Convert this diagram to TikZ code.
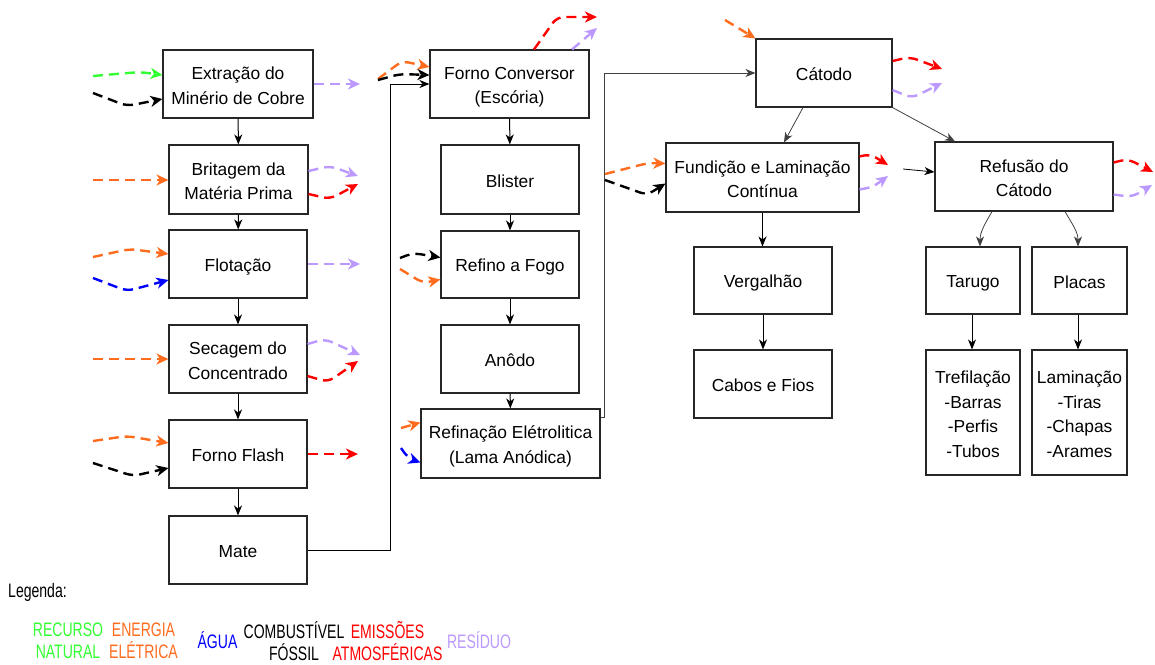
\documentclass[tikz,border=0pt]{standalone}
\usepackage{fontspec}
\setmainfont{Liberation Sans}
\newfontfamily\legfont[FakeStretch=0.72]{Liberation Sans}
\usetikzlibrary{arrows.meta,calc}
\definecolor{cgreen}{RGB}{51,255,51}
\definecolor{corange}{RGB}{255,108,30}
\definecolor{cblue}{RGB}{0,0,255}
\definecolor{cred}{RGB}{255,0,0}
\definecolor{cpurple}{RGB}{187,153,255}
\newcommand{\lstr}{\rule[-3pt]{0pt}{21.5pt}}
\begin{document}
\begin{tikzpicture}[x=1pt,y=-1pt,
  box/.style={draw=black!85, line width=1.1pt, fill=white, align=center,
    font=\fontsize{17.4}{24.5}\selectfont, inner sep=0pt},
  flowarrow/.style={line width=1pt, draw=black, -{Stealth[length=10pt,width=8pt,inset=3pt]}},
  dflow/.style={line width=2.4pt, dash pattern=on 10pt off 6pt, rounded corners=7pt,
    -{Stealth[length=12pt,width=11pt,inset=3.5pt]}},
  leg/.style={align=center, inner sep=0pt, font=\legfont\fontsize{19.5}{22}\selectfont}
]
\useasboundingbox (0,0) rectangle (1155,664);

% column 1
\node[box, minimum width=150pt, minimum height=68pt] (extr) at (238,84) {\lstr Extração do\\\lstr Minério de Cobre};
\node[box, minimum width=139pt, minimum height=69pt] (brit) at (238.5,179.5) {\lstr Britagem da\\\lstr Matéria Prima};
\node[box, minimum width=138pt, minimum height=68pt] (flot) at (238,264) {\lstr Flotação};
\node[box, minimum width=138pt, minimum height=68pt] (seca) at (238,359) {\lstr Secagem do\\\lstr Concentrado};
\node[box, minimum width=138pt, minimum height=68pt] (flash) at (238,454) {\lstr Forno Flash};
\node[box, minimum width=138pt, minimum height=68pt] (mate) at (238,550) {\lstr Mate};

% column 2
\node[box, minimum width=159pt, minimum height=68pt] (conv) at (509.5,84) {\lstr Forno Conversor\\\lstr (Escória)};
\node[box, minimum width=138pt, minimum height=69pt] (blis) at (510,179.5) {\lstr Blister};
\node[box, minimum width=138pt, minimum height=67pt] (refi) at (510,264.5) {\lstr Refino a Fogo};
\node[box, minimum width=138pt, minimum height=68pt] (anod) at (510,359) {\lstr Anôdo};
\node[box, minimum width=179pt, minimum height=69pt] (refel) at (510.5,443.5) {\lstr Refinação Elétrolitica\\\lstr (Lama Anódica)};

% column 3
\node[box, minimum width=136pt, minimum height=68pt] (cato) at (824,73) {\lstr Cátodo};
\node[box, minimum width=193pt, minimum height=69pt] (fund) at (762.5,177.5) {\lstr Fundição e Laminação\\\lstr Contínua};
\node[box, minimum width=138pt, minimum height=67pt] (verg) at (763,280.5) {\lstr Vergalhão};
\node[box, minimum width=138pt, minimum height=68pt] (cabo) at (763,384) {\lstr Cabos e Fios};

% column 4
\node[box, minimum width=178pt, minimum height=69pt] (refu) at (1024,176.5) {\lstr Refusão do\\\lstr Cátodo};
\node[box, minimum width=94pt, minimum height=67pt] (taru) at (973,280.5) {\lstr Tarugo};
\node[box, minimum width=95pt, minimum height=67pt] (plac) at (1079.5,280.5) {\lstr Placas};
\node[box, minimum width=94pt, minimum height=125pt] (tref) at (973,412.5) {\lstr Trefilação\\\lstr -Barras\\\lstr -Perfis\\\lstr -Tubos};
\node[box, minimum width=95pt, minimum height=125pt] (lami) at (1079.5,412.5) {\lstr Laminação\\\lstr -Tiras\\\lstr -Chapas\\\lstr -Arames};

% solid connectors
\draw[flowarrow] (extr) -- (brit);
\draw[flowarrow] (brit) -- (flot);
\draw[flowarrow] (flot) -- (seca);
\draw[flowarrow] (seca) -- (flash);
\draw[flowarrow] (flash) -- (mate);
\draw[flowarrow] (conv) -- (blis);
\draw[flowarrow] (blis) -- (refi);
\draw[flowarrow] (refi) -- (anod);
\draw[flowarrow] (anod) -- (refel);
\draw[flowarrow] (mate.east) -- ++(83,0) |- (conv.west);
\draw[flowarrow, draw=black!75] ($(refel.east)+(0,-26.5)$) -- ++(4,0) |- (cato.west);
\draw[flowarrow, line width=0.8pt, draw=black!75] ($(cato.south)+(-21,0)$) -- ($(fund.north)+(21.5,0)$);
\draw[flowarrow, line width=0.8pt, draw=black!75] (cato.south east) -- ($(refu.north)+(-69,0)$);
\draw[flowarrow] (fund.south) -- (verg.north -| fund.south);
\draw[flowarrow] (verg) -- (cabo);
\coordinate (rin) at (903,169);
\draw[flowarrow, line width=0.8pt] (rin) -- ($(refu.west)+(0,-4.5)$);
\draw[flowarrow, line width=0.8pt, draw=black!75] ($(refu.south)+(-32,0)$) to[out=-120,in=90] ($(taru.north)+(7,0)$);
\draw[flowarrow, line width=0.8pt, draw=black!75] ($(refu.south)+(41,0)$) to[out=-60,in=90] ($(plac.north)+(-1.5,0)$);
\draw[flowarrow] ($(taru.south)+(-1,0)$) -- ($(tref.north)+(-1,0)$);
\draw[flowarrow] ($(plac.south)+(-1.5,0)$) -- ($(lami.north)+(-1.5,0)$);

% free ends of the dashed flows
\coordinate (gx) at (93,76);
\coordinate (bx) at (93,93);
\coordinate (px) at (360,84);
\coordinate (ob) at (93,180);
\coordinate (pb) at (358,176);
\coordinate (rb) at (358,184);
\coordinate (of) at (93,257);
\coordinate (bf) at (93,278);
\coordinate (pf) at (360,264);
\coordinate (os) at (93,359);
\coordinate (ps) at (360,355);
\coordinate (rs) at (358,361);
\coordinate (ofl) at (93,441);
\coordinate (bfl) at (93,463);
\coordinate (rfl) at (358,454);
\coordinate (oc) at (378,79);
\coordinate (bc) at (378,80);
\coordinate (rc) at (597,17);
\coordinate (pc) at (597,28);
\coordinate (brf) at (400,258);
\coordinate (orf) at (400,269);
\coordinate (ore) at (401,428);
\coordinate (bre) at (401,448);
\coordinate (oca) at (725,20);
\coordinate (rca) at (942,69);
\coordinate (pca) at (942,83);
\coordinate (ofu) at (605,174);
\coordinate (bfu) at (605,180);
\coordinate (rfu) at (888,165);
\coordinate (pfu) at (888,176);
\coordinate (rre) at (1153,172);
\coordinate (pre) at (1152,185);

% Extração
\draw[dflow, cgreen] (gx) -- (140,72) -- ($(extr.west)+(0,-9)$);
\draw[dflow, black] (bx) -- (127,106) -- ($(extr.west)+(0,15)$);
\draw[dflow, cpurple] (extr.east) -- (px);
% Britagem
\draw[dflow, corange] (ob) -- ($(brit.west)+(0,0.5)$);
\draw[dflow, cpurple] ($(brit.east)+(0,-8.5)$) -- (330,166) -- (pb);
\draw[dflow, cred] ($(brit.east)+(0,14.5)$) -- (330,199) -- (rb);
% Flotação
\draw[dflow, corange] (of) -- (130,249) -- ($(flot.west)+(0,-10)$);
\draw[dflow, cblue] (bf) -- (127,291) -- ($(flot.west)+(0,16)$);
\draw[dflow, cpurple] (flot.east) -- (pf);
% Secagem
\draw[dflow, corange] (os) -- (seca.west);
\draw[dflow, cpurple] ($(seca.east)+(0,-15)$) -- (325,339) -- (ps);
\draw[dflow, cred] ($(seca.east)+(0,17)$) -- (328,382) -- (rs);
% Forno Flash
\draw[dflow, corange] (ofl) -- (127,436) -- ($(flash.west)+(0,-11)$);
\draw[dflow, black] (bfl) -- (133,476) -- ($(flash.west)+(0,14)$);
\draw[dflow, cred] (flash.east) -- (rfl);
% Forno Conversor
\draw[dflow, corange] (oc) -- (402,61) -- ($(conv.west)+(0,-17)$);
\draw[dflow, black] (bc) -- (400,74) -- ($(conv.west)+(0,-9)$);
\draw[dflow, cred] ($(conv.north)+(24.5,0)$) -- (557,17) -- (rc);
\draw[dflow, cpurple] ($(conv.north)+(62.5,0)$) -- (pc);
% Refino a Fogo
\draw[dflow, black] (brf) -- (413,253) -- ($(refi.west)+(0,-7)$);
\draw[dflow, corange] (orf) -- (423,283) -- ($(refi.west)+(0,15)$);
% Refinação
\draw[dflow, corange] (ore) -- ($(refel.west)+(0,-21)$);
\draw[dflow, cblue] (bre) -- (408,458) -- ($(refel.west)+(0,19)$);
% Cátodo
\draw[dflow, corange] (oca) -- (cato.north west);
\draw[dflow, cred] ($(cato.east)+(0,-12)$) -- (910,57) -- (rca);
\draw[dflow, cpurple] ($(cato.east)+(0,17)$) -- (912,98) -- (pca);
% Fundição
\draw[dflow, corange] (ofu) -- (648,163) -- ($(fund.west)+(0,-14)$);
\draw[dflow, black] (bfu) -- (647,195) -- ($(fund.west)+(0,6)$);
\draw[dflow, cred] ($(fund.east)+(0,-21)$) -- (870,154) -- (rfu);
\draw[dflow, cpurple] ($(fund.east)+(0,12)$) -- (873,187) -- (pfu);
% Refusão
\draw[dflow, cred] ($(refu.east)+(0,-14)$) -- (1128,159) -- (rre);
\draw[dflow, cpurple] ($(refu.east)+(0,18)$) -- (1132,197) -- (pre);

% legend
\node[leg, anchor=west] (legt) at (8,592) {Legenda:};
\node[leg, text=cgreen] (l1) at (68,641) {RECURSO\\NATURAL};
\node[leg, text=corange] (l2) at (143.5,641) {ENERGIA\\ELÉTRICA};
\node[leg, text=cblue] (l3) at (217.5,640) {ÁGUA};
\node[leg, text=black] (l4) at (294,641) {COMBUSTÍVEL\\FÓSSIL};
\node[leg, text=cred] (l5) at (387.5,641) {EMISSÕES\\ATMOSFÉRICAS};
\node[leg, text=cpurple] (l6) at (479,640) {RESÍDUO};
\end{tikzpicture}
\end{document}
